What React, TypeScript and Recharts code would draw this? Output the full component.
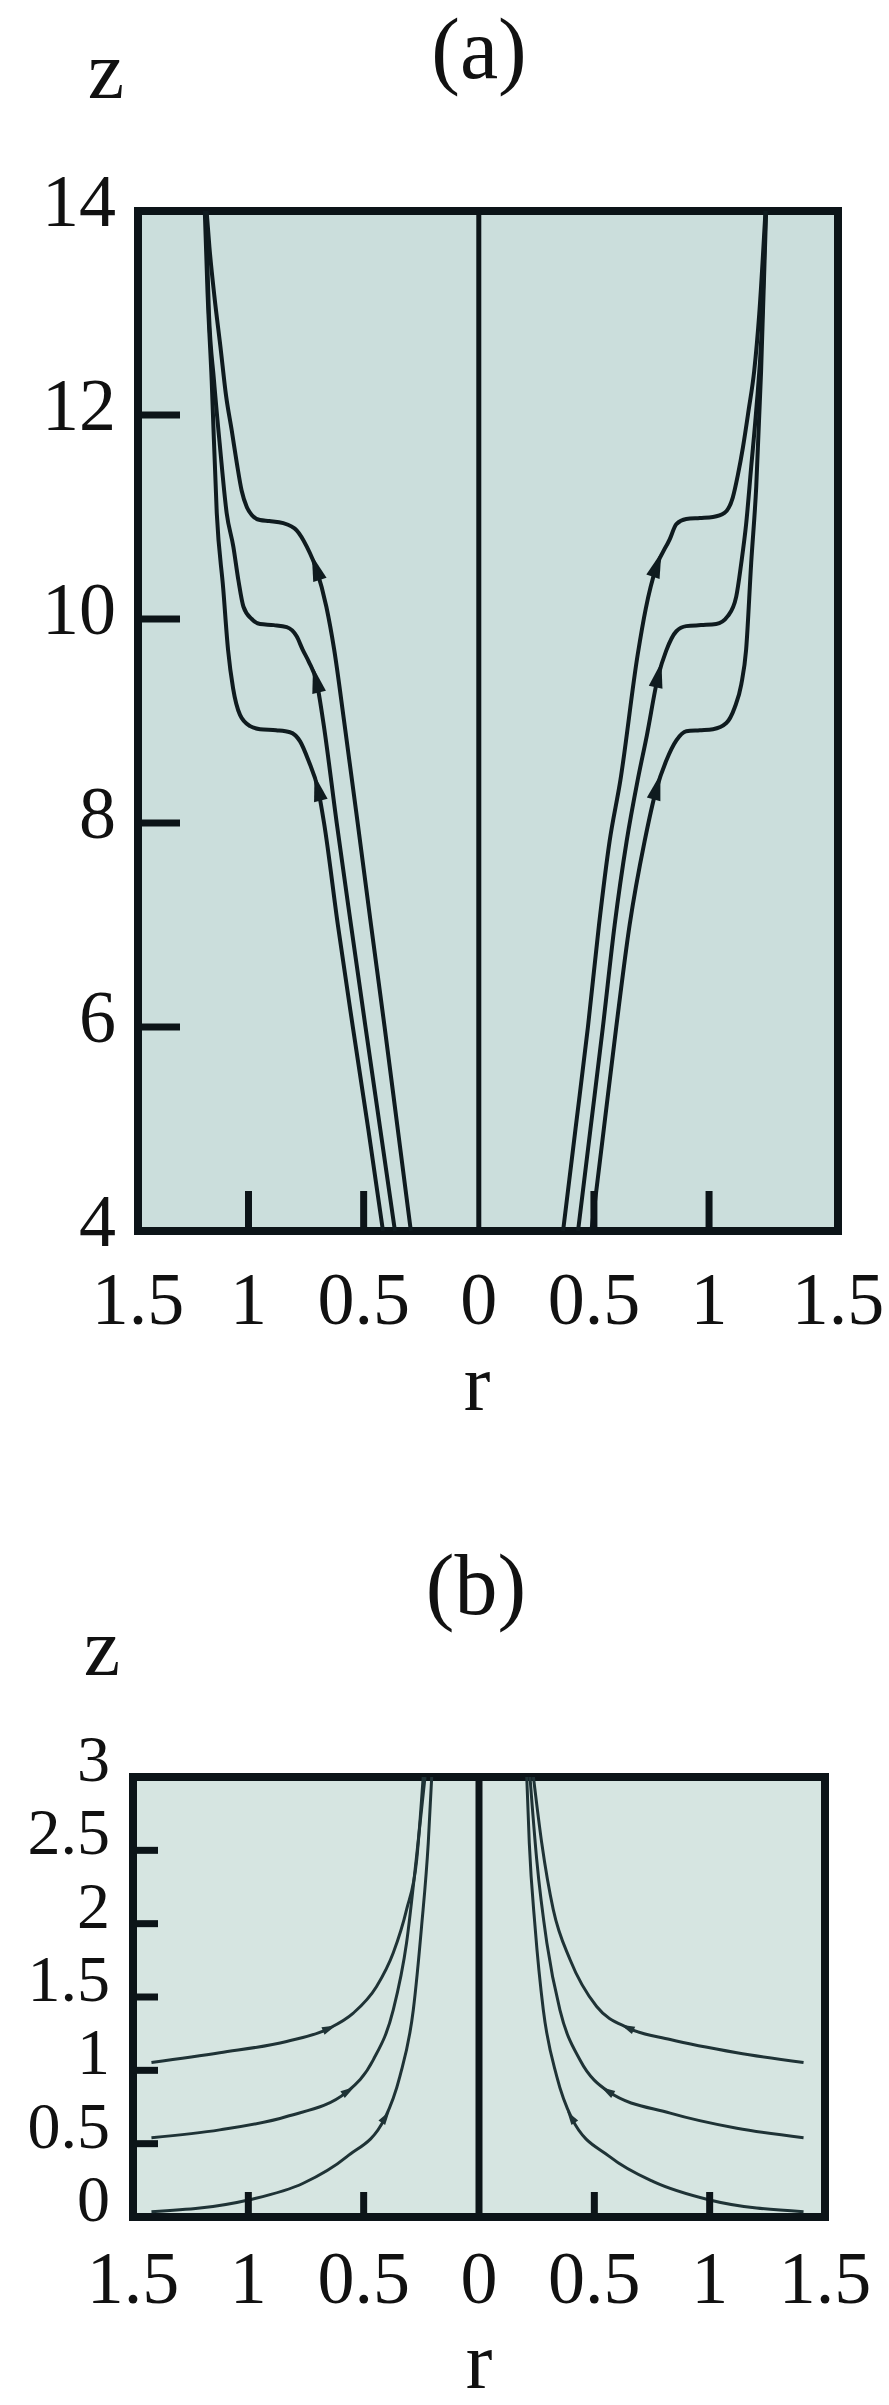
import React from 'react';
import {
  LineChart,
  Line,
  XAxis,
  YAxis,
  CartesianGrid,
  ReferenceLine,
  ReferenceArea,
  Label,
} from 'recharts';

// ---------------- Panel (a) data ----------------
const xDomainA: [number, number] = [-1.48, 1.56];
const yDomainA: [number, number] = [4, 14];
const xTicksA = [-1.48, -1, -0.5, 0, 0.5, 1, 1.56];
const xTickLabelsA = ['1.5', '1', '0.5', '0', '0.5', '1', '1.5'];
const yTicksA = [4, 6, 8, 10, 12, 14];
const yTickLabelsA = ['4', '6', '8', '10', '12', '14'];

const aLeft1 = [
  { r: -0.416, z: 4 }, { r: -0.48, z: 5 }, { r: -0.547, z: 6 }, { r: -0.612, z: 7 },
  { r: -0.672, z: 8 }, { r: -0.697, z: 8.32, arrow: 1 }, { r: -0.741, z: 8.62 },
  { r: -0.776, z: 8.8 }, { r: -0.82, z: 8.89 }, { r: -0.88, z: 8.91 }, { r: -0.95, z: 8.92 },
  { r: -0.993, z: 8.95 }, { r: -1.037, z: 9.06 }, { r: -1.067, z: 9.32 }, { r: -1.089, z: 9.7 },
  { r: -1.11, z: 10.3 }, { r: -1.138, z: 11.04 }, { r: -1.16, z: 12.34 }, { r: -1.178, z: 13.2 },
  { r: -1.19, z: 14 },
];
const aLeft2 = [
  { r: -0.364, z: 4 }, { r: -0.428, z: 5 }, { r: -0.492, z: 6 }, { r: -0.555, z: 7 },
  { r: -0.617, z: 8 }, { r: -0.676, z: 9 }, { r: -0.704, z: 9.38, arrow: 1 }, { r: -0.738, z: 9.58 },
  { r: -0.765, z: 9.7 }, { r: -0.791, z: 9.83 }, { r: -0.834, z: 9.92 }, { r: -0.89, z: 9.94 },
  { r: -0.95, z: 9.95 }, { r: -0.986, z: 10.0 }, { r: -1.022, z: 10.12 }, { r: -1.044, z: 10.38 },
  { r: -1.066, z: 10.71 }, { r: -1.095, z: 11.04 }, { r: -1.124, z: 11.69 }, { r: -1.15, z: 12.34 },
  { r: -1.172, z: 13.0 }, { r: -1.186, z: 14 },
];
const aLeft3 = [
  { r: -0.295, z: 4 }, { r: -0.352, z: 5 }, { r: -0.409, z: 6 }, { r: -0.468, z: 7 },
  { r: -0.526, z: 8 }, { r: -0.585, z: 9 }, { r: -0.628, z: 9.7 }, { r: -0.662, z: 10.12 },
  { r: -0.704, z: 10.48, arrow: 1 }, { r: -0.747, z: 10.71 }, { r: -0.791, z: 10.87 },
  { r: -0.849, z: 10.94 }, { r: -0.91, z: 10.96 }, { r: -0.95, z: 10.97 }, { r: -0.986, z: 11.02 },
  { r: -1.008, z: 11.1 }, { r: -1.03, z: 11.26 }, { r: -1.051, z: 11.53 }, { r: -1.073, z: 11.85 },
  { r: -1.097, z: 12.18 }, { r: -1.122, z: 12.67 }, { r: -1.148, z: 13.16 }, { r: -1.17, z: 13.65 },
  { r: -1.182, z: 14 },
];
const aRight1 = [
  { r: 0.489, z: 4 }, { r: 0.543, z: 5 }, { r: 0.597, z: 6 }, { r: 0.655, z: 7 },
  { r: 0.72, z: 7.82 }, { r: 0.771, z: 8.33, arrow: 1 }, { r: 0.814, z: 8.61 }, { r: 0.858, z: 8.81 },
  { r: 0.901, z: 8.9 }, { r: 0.96, z: 8.91 }, { r: 1.017, z: 8.92 }, { r: 1.075, z: 8.98 },
  { r: 1.111, z: 9.13 }, { r: 1.14, z: 9.36 }, { r: 1.161, z: 9.7 }, { r: 1.183, z: 10.55 },
  { r: 1.205, z: 11.3 }, { r: 1.226, z: 12.43 }, { r: 1.248, z: 14 },
];
const aRight2 = [
  { r: 0.431, z: 4 }, { r: 0.485, z: 5 }, { r: 0.539, z: 6 }, { r: 0.59, z: 7 },
  { r: 0.642, z: 7.82 }, { r: 0.69, z: 8.42 }, { r: 0.73, z: 8.86 }, { r: 0.778, z: 9.43, arrow: 1 },
  { r: 0.814, z: 9.69 }, { r: 0.858, z: 9.88 }, { r: 0.901, z: 9.93 }, { r: 0.965, z: 9.94 },
  { r: 1.031, z: 9.95 }, { r: 1.082, z: 10.03 }, { r: 1.118, z: 10.22 }, { r: 1.14, z: 10.55 },
  { r: 1.161, z: 10.93 }, { r: 1.183, z: 11.49 }, { r: 1.205, z: 12.05 }, { r: 1.228, z: 12.8 },
  { r: 1.246, z: 14 },
];
const aRight3 = [
  { r: 0.366, z: 4 }, { r: 0.42, z: 5 }, { r: 0.474, z: 6 }, { r: 0.522, z: 7 },
  { r: 0.568, z: 7.82 }, { r: 0.615, z: 8.42 }, { r: 0.69, z: 9.65 }, { r: 0.725, z: 10.1 },
  { r: 0.771, z: 10.51, arrow: 1 }, { r: 0.829, z: 10.78 }, { r: 0.858, z: 10.93 },
  { r: 0.901, z: 10.98 }, { r: 0.96, z: 10.99 }, { r: 1.017, z: 11.0 }, { r: 1.067, z: 11.04 },
  { r: 1.103, z: 11.19 }, { r: 1.125, z: 11.41 }, { r: 1.147, z: 11.68 }, { r: 1.172, z: 12.05 },
  { r: 1.196, z: 12.43 }, { r: 1.218, z: 12.99 }, { r: 1.245, z: 14 },
];

// ---------------- Panel (b) data ----------------
const xDomainB: [number, number] = [-1.5, 1.5];
const yDomainB: [number, number] = [0, 3];
const xTicksB = [-1.5, -1, -0.5, 0, 0.5, 1, 1.5];
const xTickLabelsB = ['1.5', '1', '0.5', '0', '0.5', '1', '1.5'];
const yTicksB = [0, 0.5, 1, 1.5, 2, 2.5, 3];
const yTickLabelsB = ['0', '0.5', '1', '1.5', '2', '2.5', '3'];

const bLeft1 = [
  { r: -1.42, z: 1.053 }, { r: -1.124, z: 1.12 }, { r: -0.834, z: 1.197 },
  { r: -0.654, z: 1.283, arrow: 1 }, { r: -0.545, z: 1.39 }, { r: -0.444, z: 1.572 },
  { r: -0.372, z: 1.8 }, { r: -0.314, z: 2.096 }, { r: -0.27, z: 2.437 }, { r: -0.242, z: 3.0 },
];
const bLeft2 = [
  { r: -1.42, z: 0.541 }, { r: -1.124, z: 0.594 }, { r: -0.834, z: 0.685 },
  { r: -0.571, z: 0.855, arrow: 1 }, { r: -0.459, z: 1.07 }, { r: -0.372, z: 1.41 },
  { r: -0.314, z: 1.87 }, { r: -0.272, z: 2.44 }, { r: -0.234, z: 3.0 },
];
const bLeft3 = [
  { r: -1.42, z: 0.036 }, { r: -1.0, z: 0.116 }, { r: -0.762, z: 0.23 }, { r: -0.574, z: 0.41 },
  { r: -0.408, z: 0.674, arrow: 1 }, { r: -0.343, z: 0.958 }, { r: -0.285, z: 1.41 },
  { r: -0.249, z: 1.98 }, { r: -0.22, z: 2.55 }, { r: -0.205, z: 3.0 },
];
const bRight1 = [
  { r: 0.236, z: 3.0 }, { r: 0.272, z: 2.55 }, { r: 0.322, z: 2.096 }, { r: 0.395, z: 1.754 },
  { r: 0.51, z: 1.435 }, { r: 0.648, z: 1.288, arrow: 1 }, { r: 0.829, z: 1.21 },
  { r: 1.118, z: 1.12 }, { r: 1.407, z: 1.053 },
];
const bRight2 = [
  { r: 0.221, z: 3.0 }, { r: 0.25, z: 2.44 }, { r: 0.294, z: 1.87 }, { r: 0.351, z: 1.41 },
  { r: 0.438, z: 1.07 }, { r: 0.561, z: 0.855, arrow: 1 }, { r: 0.829, z: 0.708 },
  { r: 1.118, z: 0.605 }, { r: 1.407, z: 0.541 },
];
const bRight3 = [
  { r: 0.207, z: 3.0 }, { r: 0.218, z: 2.55 }, { r: 0.243, z: 1.98 }, { r: 0.279, z: 1.41 },
  { r: 0.337, z: 0.958 }, { r: 0.402, z: 0.674, arrow: 1 }, { r: 0.568, z: 0.41 },
  { r: 0.756, z: 0.241 }, { r: 1.0, z: 0.116 }, { r: 1.407, z: 0.036 },
];

const curvesA = [aLeft1, aLeft2, aLeft3, aRight1, aRight2, aRight3];
const curvesB = [bLeft1, bLeft2, bLeft3, bRight1, bRight2, bRight3];

// ---------------- Styles ----------------
const FONT = "'Liberation Serif', 'Times New Roman', Times, serif";
const TEXT = '#111111';
const FRAME = '#0c1418';
const BG_A = '#cbdedc';
const BG_B = '#d6e5e1';
const LINE_A = '#0f1b1f';
const LINE_B = '#1f3336';

// arrowhead rendered at flagged data points, oriented along the curve (upward)
function makeArrowDot(len: number, wid: number, color: string) {
  return (props: any) => {
    const { cx, cy, index, payload, points } = props;
    const key = `dot-${index}`;
    if (!payload || !payload.arrow || cx == null || cy == null) return <g key={key} />;
    let dx = 0;
    let dy = -1;
    if (points && points.length > 1) {
      const p = points[Math.max(0, index - 1)];
      const n = points[Math.min(points.length - 1, index + 1)];
      dx = n.x - p.x;
      dy = n.y - p.y;
      if (dy > 0) {
        dx = -dx;
        dy = -dy;
      }
      const m = Math.hypot(dx, dy) || 1;
      dx /= m;
      dy /= m;
    }
    const tx = cx + dx * len * 0.6;
    const ty = cy + dy * len * 0.6;
    const bx = cx - dx * len * 0.4;
    const by = cy - dy * len * 0.4;
    const nx = -dy;
    const ny = dx;
    const d = `M${tx},${ty} L${bx + (nx * wid) / 2},${by + (ny * wid) / 2} L${bx - (nx * wid) / 2},${by - (ny * wid) / 2} Z`;
    return <path key={key} d={d} fill={color} stroke="none" />;
  };
}

const arrowA = makeArrowDot(26, 14, LINE_A);
const arrowB = makeArrowDot(14, 8, LINE_B);

function makeXTick(domain: [number, number], ticks: number[], labels: string[], len: number, base: number, fs: number) {
  return (props: any) => {
    const { x, y, payload } = props;
    const v = payload.value;
    const inner = v !== domain[0] && v !== domain[1] && v !== 0;
    const i = ticks.indexOf(v);
    return (
      <g>
        {inner && <line x1={x} x2={x} y1={y} y2={y - len} stroke={FRAME} strokeWidth={7} />}
        <text x={x} y={y + base} textAnchor="middle" fontFamily={FONT} fontSize={fs} fill={TEXT}>
          {i >= 0 ? labels[i] : String(v)}
        </text>
      </g>
    );
  };
}

function makeYTick(domain: [number, number], ticks: number[], labels: string[], len: number, gap: number, dy: number, fs: number) {
  return (props: any) => {
    const { x, y, payload } = props;
    const v = payload.value;
    const inner = v !== domain[0] && v !== domain[1];
    const i = ticks.indexOf(v);
    return (
      <g>
        {inner && <line x1={x} x2={x + len} y1={y} y2={y} stroke={FRAME} strokeWidth={7} />}
        <text x={x - gap} y={y + dy} textAnchor="end" fontFamily={FONT} fontSize={fs} fill={TEXT}>
          {i >= 0 ? labels[i] : String(v)}
        </text>
      </g>
    );
  };
}

const xTickA = makeXTick(xDomainA, xTicksA, xTickLabelsA, 40, 93, 74);
const yTickA = makeYTick(yDomainA, yTicksA, yTickLabelsA, 42, 22, 15, 74);
const xTickB = makeXTick(xDomainB, xTicksB, xTickLabelsB, 25, 86, 74);
const yTickB = makeYTick(yDomainB, yTicksB, yTickLabelsB, 25, 23, 4, 66);

function textLabel(x: number, y: number, txt: string, fs: number) {
  return () => (
    <text x={x} y={y} textAnchor="middle" fontFamily={FONT} fontSize={fs} fill={TEXT}>
      {txt}
    </text>
  );
}

export default function App() {
  return (
    <div style={{ position: 'absolute', left: 0, top: 0, width: 889, height: 2405, background: '#ffffff' }}>
      {/* Panel (a) */}
      <LineChart width={889} height={1430} margin={{ top: 211, right: 51, bottom: 9, left: 8 }}>
        <CartesianGrid fill={BG_A} horizontal={false} vertical={false} />
        <XAxis
          type="number"
          dataKey="r"
          domain={xDomainA}
          ticks={xTicksA}
          interval={0}
          allowDataOverflow
          tickSize={0}
          tickMargin={0}
          tickLine={false}
          axisLine={false}
          height={190}
          tick={xTickA}
        >
          <Label content={textLabel(477, 1410, 'r', 80)} />
        </XAxis>
        <YAxis
          type="number"
          dataKey="z"
          domain={yDomainA}
          ticks={yTicksA}
          interval={0}
          allowDataOverflow
          tickSize={0}
          tickMargin={0}
          tickLine={false}
          axisLine={false}
          width={130}
          tick={yTickA}
        >
          <Label content={textLabel(106, 98, 'z', 82)} />
          <Label content={textLabel(479, 78, '(a)', 86)} />
        </YAxis>
        <ReferenceLine x={0} stroke={FRAME} strokeWidth={5} />
        {curvesA.map((c, i) => (
          <Line
            key={`a${i}`}
            data={c}
            dataKey="z"
            type="monotone"
            stroke={LINE_A}
            strokeWidth={4}
            dot={arrowA}
            activeDot={false}
            isAnimationActive={false}
          />
        ))}
        <ReferenceArea
          x1={xDomainA[0]}
          x2={xDomainA[1]}
          y1={yDomainA[0]}
          y2={yDomainA[1]}
          fill="none"
          fillOpacity={0}
          stroke={FRAME}
          strokeWidth={8}
        />
      </LineChart>

      {/* Panel (b) */}
      <LineChart width={889} height={975} margin={{ top: 347, right: 64, bottom: 8, left: 13 }}>
        <CartesianGrid fill={BG_B} horizontal={false} vertical={false} />
        <XAxis
          type="number"
          dataKey="r"
          domain={xDomainB}
          ticks={xTicksB}
          interval={0}
          allowDataOverflow
          tickSize={0}
          tickMargin={0}
          tickLine={false}
          axisLine={false}
          height={180}
          tick={xTickB}
        >
          <Label content={textLabel(479, 958, 'r', 80)} />
        </XAxis>
        <YAxis
          type="number"
          dataKey="z"
          domain={yDomainB}
          ticks={yTicksB}
          interval={0}
          allowDataOverflow
          tickSize={0}
          tickMargin={0}
          tickLine={false}
          axisLine={false}
          width={120}
          tick={yTickB}
        >
          <Label content={textLabel(102, 245, 'z', 82)} />
          <Label content={textLabel(476, 184, '(b)', 86)} />
        </YAxis>
        <ReferenceLine x={0} stroke={FRAME} strokeWidth={7} />
        {curvesB.map((c, i) => (
          <Line
            key={`b${i}`}
            data={c}
            dataKey="z"
            type="monotone"
            stroke={LINE_B}
            strokeWidth={3}
            dot={arrowB}
            activeDot={false}
            isAnimationActive={false}
          />
        ))}
        <ReferenceArea
          x1={xDomainB[0]}
          x2={xDomainB[1]}
          y1={yDomainB[0]}
          y2={yDomainB[1]}
          fill="none"
          fillOpacity={0}
          stroke={FRAME}
          strokeWidth={8}
        />
      </LineChart>
    </div>
  );
}
